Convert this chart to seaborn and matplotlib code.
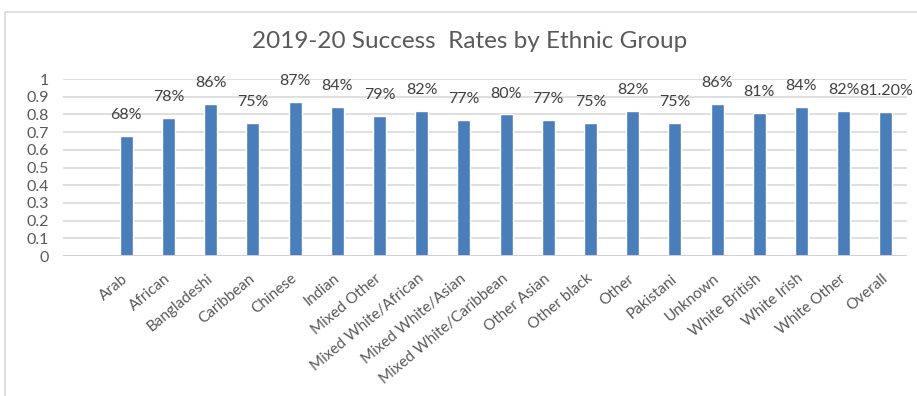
import matplotlib
matplotlib.use("Agg")
import matplotlib.pyplot as plt
from matplotlib.patches import Rectangle
import seaborn as sns
import pandas as pd

groups = ["Arab", "African", "Bangladeshi", "Caribbean", "Chinese", "Indian",
          "Mixed Other", "Mixed White/African", "Mixed White/Asian",
          "Mixed White/Caribbean", "Other Asian", "Other black", "Other",
          "Pakistani", "Unknown", "White British", "White Irish",
          "White Other", "Overall"]
rates = [0.68, 0.78, 0.86, 0.75, 0.87, 0.84, 0.79, 0.82, 0.77, 0.80,
         0.77, 0.75, 0.82, 0.75, 0.86, 0.81, 0.84, 0.82, 0.812]
rate_labels = ["68%", "78%", "86%", "75%", "87%", "84%", "79%", "82%", "77%",
               "80%", "77%", "75%", "82%", "75%", "86%", "81%", "84%", "82%",
               "81.20%"]
y_ticks = [0, 0.1, 0.2, 0.3, 0.4, 0.5, 0.6, 0.7, 0.8, 0.9, 1]
y_tick_labels = ["0", "0.1", "0.2", "0.3", "0.4", "0.5", "0.6", "0.7",
                 "0.8", "0.9", "1"]
title = "2019-20 Success  Rates by Ethnic Group"

sns.set_theme(style="white")
plt.rcParams["font.family"] = ["Lato", "DejaVu Sans"]

df = pd.DataFrame({"group": groups, "rate": rates})

W, H = 917, 396
fig = plt.figure(figsize=(W / 100, H / 100), dpi=100)
fig.patch.set_facecolor("white")

# chart frame
fig.patches.append(Rectangle((5 / W, -0.05), 1.2, 1 - 12 / H + 0.05,
                             transform=fig.transFigure, fill=False,
                             edgecolor="#D9D9D9", linewidth=1.2))

ax = fig.add_axes([63 / W, 1 - 256 / H, (907 - 63) / W, (256 - 79) / H])
sns.barplot(data=df, x="group", y="rate", order=groups, color="#4A7EBB",
            saturation=1, width=0.31, ax=ax, zorder=3)

ax.set_xlim(-1.5, len(groups) - 0.5)
ax.set_ylim(0, 1)
ax.set_yticks(y_ticks)
ax.set_yticklabels(y_tick_labels, fontsize=11.5, color="#595959")
for y in y_ticks[1:]:
    ax.axhline(y, color="#D9D9D9", linewidth=1.2, zorder=1)
ax.axhline(0, color="#D0D0D0", linewidth=1.4, zorder=4)

ax.set_xticks(range(len(groups)))
ax.set_xticklabels(groups, rotation=40, ha="right", va="center",
                   rotation_mode="anchor", fontsize=11, color="#595959")
ax.tick_params(axis="x", length=0, pad=15)
ax.tick_params(axis="y", length=0, pad=10)
ax.set_xlabel("")
ax.set_ylabel("")
for s in ax.spines.values():
    s.set_visible(False)

for i, (v, lab) in enumerate(zip(rates, rate_labels)):
    ax.annotate(lab, (i, v), xytext=(0, 10), textcoords="offset points",
                ha="center", va="bottom", fontsize=11.5, color="#404040")

fig.text(470 / W, 1 - 42 / H, title, ha="center", va="center",
         fontsize=17.5, color="#595959")

fig.savefig("out.png", dpi=100)
